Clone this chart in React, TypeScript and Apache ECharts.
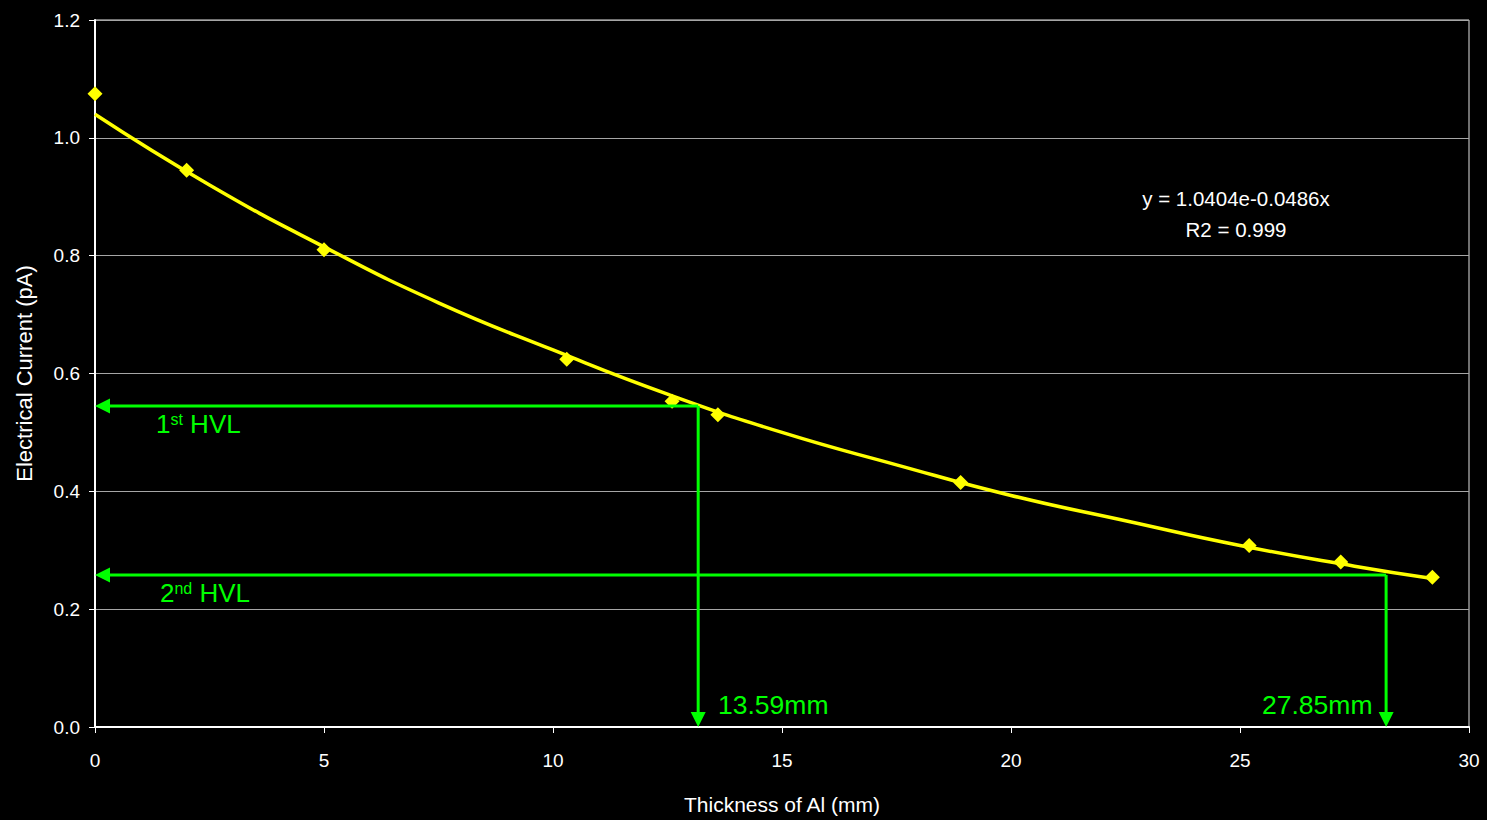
import React, { useEffect, useRef } from "react";
import * as echarts from "echarts";

const thickness = [0, 2, 5, 10.3, 12.6, 13.6, 18.9, 25.2, 27.2, 29.2];
const current = [1.075, 0.945, 0.81, 0.624, 0.553, 0.53, 0.415, 0.308, 0.28, 0.254];

const trendX = [0, 2.5, 5, 7.5, 10, 12.5, 15, 17.5, 20, 22.5, 25, 27.5, 29.2];
const trendY = [1.04, 0.92, 0.815, 0.72, 0.64, 0.565, 0.5, 0.445, 0.393, 0.35, 0.308, 0.273, 0.252];

const hvl1 = { x: 13.17, y: 0.545 };
const hvl2 = { x: 28.19, y: 0.258 };

const xTicks = [0, 30, 5];
const yTicks = [0, 1.2, 0.2];

const FONT = "Liberation Sans, Arial, sans-serif";
const GREEN = "#00ff00";
const ARROW = 15;

export default function App() {
  const ref = useRef<HTMLDivElement>(null);
  useEffect(() => {
    const chart = echarts.init(ref.current!, null, { renderer: "svg" });
    const hvlRich = {
      a: { fontSize: 26, fill: GREEN, fontFamily: FONT, verticalAlign: "bottom" },
      s: { fontSize: 16, fill: GREEN, fontFamily: FONT, verticalAlign: "top" },
    };
    chart.setOption({
      animation: false,
      backgroundColor: "#000",
      textStyle: { fontFamily: FONT },
      grid: {
        left: 95,
        right: 18,
        top: 20,
        bottom: 92,
        show: true,
        borderColor: "#e0e0e0",
        borderWidth: 1,
      },
      xAxis: {
        type: "value",
        min: xTicks[0],
        max: xTicks[1],
        interval: xTicks[2],
        name: "Thickness of Al (mm)",
        nameLocation: "middle",
        nameGap: 67,
        nameTextStyle: { color: "#fff", fontSize: 21, fontFamily: FONT },
        axisLine: { lineStyle: { color: "#fff", width: 2 } },
        axisTick: { show: true, length: 6, lineStyle: { color: "#fff" } },
        axisLabel: { color: "#fff", fontSize: 19, margin: 24, fontFamily: FONT },
        splitLine: { show: false },
      },
      yAxis: {
        type: "value",
        min: yTicks[0],
        max: yTicks[1],
        interval: yTicks[2],
        name: "Electrical Current (pA)",
        nameLocation: "middle",
        nameGap: 60,
        nameTextStyle: { color: "#fff", fontSize: 22, fontFamily: FONT },
        axisLine: { lineStyle: { color: "#fff", width: 2 } },
        axisTick: { show: true, length: 6, lineStyle: { color: "#fff" } },
        axisLabel: {
          color: "#fff",
          fontSize: 19,
          margin: 15,
          fontFamily: FONT,
          formatter: (v: number) => v.toFixed(1),
        },
        splitLine: { show: true, lineStyle: { color: "#a6a6a6", width: 1 } },
      },
      series: [
        {
          type: "line",
          data: trendX.map((x, i) => [x, trendY[i]]),
          smooth: true,
          showSymbol: false,
          clip: false,
          lineStyle: { color: "#ffff00", width: 3.5 },
          z: 3,
        },
        {
          type: "scatter",
          data: thickness.map((x, i) => [x, current[i]]),
          symbol: "diamond",
          symbolSize: 15,
          itemStyle: { color: "#ffff00", opacity: 1 },
          z: 4,
        },
      ],
      graphic: [
        {
          type: "text",
          x: 1236,
          y: 183,
          style: {
            text: "y = 1.0404e-0.0486x\nR2 = 0.999",
            fill: "#fff",
            fontSize: 20.5,
            fontFamily: FONT,
            lineHeight: 31,
            align: "center",
          },
          z: 10,
        },
        {
          type: "text",
          x: 156,
          y: 411,
          style: { rich: hvlRich, text: "{a|1}{s|st}{a| HVL}" },
          z: 10,
        },
        {
          type: "text",
          x: 160,
          y: 580,
          style: { rich: hvlRich, text: "{a|2}{s|nd}{a| HVL}" },
          z: 10,
        },
        {
          type: "text",
          x: 718,
          y: 691,
          style: { text: "13.59mm", fill: GREEN, fontSize: 26.5, fontFamily: FONT },
          z: 10,
        },
        {
          type: "text",
          x: 1262,
          y: 691,
          style: { text: "27.85mm", fill: GREEN, fontSize: 26.5, fontFamily: FONT },
          z: 10,
        },
      ],
    });

    // HVL arrows drawn through the chart's own coordinate conversion
    const toPx = (p: number[]) => chart.convertToPixel({ gridIndex: 0 }, p) as number[];
    const arrows: any[] = [];
    const addArrow = (from: number[], to: number[], dir: "left" | "down") => {
      const a = toPx(from);
      const b = toPx(to);
      if (dir === "left") {
        arrows.push({
          type: "line",
          shape: { x1: a[0], y1: a[1], x2: b[0] + ARROW - 2, y2: b[1] },
          style: { stroke: GREEN, lineWidth: 3 },
          z: 5,
        });
        arrows.push({
          type: "polygon",
          shape: { points: [[b[0], b[1]], [b[0] + ARROW, b[1] - 7.5], [b[0] + ARROW, b[1] + 7.5]] },
          style: { fill: GREEN },
          z: 5,
        });
      } else {
        arrows.push({
          type: "line",
          shape: { x1: a[0], y1: a[1], x2: b[0], y2: b[1] - ARROW + 2 },
          style: { stroke: GREEN, lineWidth: 3 },
          z: 5,
        });
        arrows.push({
          type: "polygon",
          shape: { points: [[b[0], b[1]], [b[0] - 7.5, b[1] - ARROW], [b[0] + 7.5, b[1] - ARROW]] },
          style: { fill: GREEN },
          z: 5,
        });
      }
    };
    addArrow([hvl1.x, hvl1.y], [0, hvl1.y], "left");
    addArrow([hvl1.x, hvl1.y], [hvl1.x, 0], "down");
    addArrow([hvl2.x, hvl2.y], [0, hvl2.y], "left");
    addArrow([hvl2.x, hvl2.y], [hvl2.x, 0], "down");
    chart.setOption({ graphic: { elements: arrows.map((e, i) => ({ ...e, id: "arrow" + i })) } });

    return () => chart.dispose();
  }, []);
  return (
    <div
      ref={ref}
      style={{ position: "fixed", left: 0, top: 0, width: 1487, height: 820, background: "#000" }}
    />
  );
}
